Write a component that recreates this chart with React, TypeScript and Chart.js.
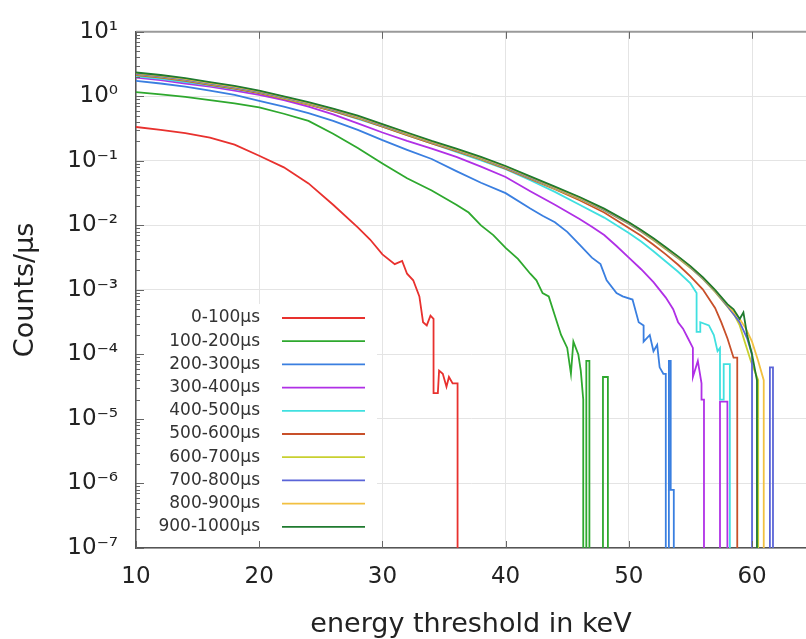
import { useEffect, useRef } from "react";
import { Chart, registerables } from "chart.js";

Chart.register(...registerables);

const seriesLabels = [
  "0-100µs", "100-200µs", "200-300µs", "300-400µs", "400-500µs",
  "500-600µs", "600-700µs", "700-800µs", "800-900µs", "900-1000µs",
];
const seriesColors = [
  "#e8312e", "#2ea82e", "#3a7fe0", "#b030e6", "#40e0e0",
  "#c8502a", "#c8d030", "#5a64d8", "#f2c040", "#1f7a2f",
];

const xTickValues = [10, 20, 30, 40, 50, 60];
const yTickValues = [1e-7, 1e-6, 1e-5, 1e-4, 1e-3, 1e-2, 1e-1, 1e0, 1e1];
const yTickLabels = ["10⁻⁷", "10⁻⁶", "10⁻⁵", "10⁻⁴", "10⁻³", "10⁻²", "10⁻¹", "10⁰", "10¹"];

// 0-100 µs
const e1 = [10, 12, 14, 16, 18, 20, 22, 24, 26, 28, 29, 30, 31, 31.6, 32, 32.5, 33, 33.3, 33.6, 33.9, 34.15, 34.15, 34.5, 34.6, 34.9, 35.2, 35.4, 35.7, 36.1, 36.1];
const c1 = [3.35e-1, 3.02e-1, 2.69e-1, 2.29e-1, 1.78e-1, 1.2e-1, 7.94e-2, 4.47e-2, 2.09e-2, 9.33e-3, 6.03e-3, 3.55e-3, 2.51e-3, 2.82e-3, 1.78e-3, 1.41e-3, 7.94e-4, 3.16e-4, 2.82e-4, 3.98e-4, 3.55e-4, 2.51e-5, 2.51e-5, 5.62e-5, 5.01e-5, 3.16e-5, 4.47e-5, 3.55e-5, 3.55e-5, 0];

// 100-200 µs
const e2 = [10, 12, 14, 16, 18, 20, 22, 24, 26, 28, 30, 32, 34, 36, 37, 38, 39, 40, 41, 42, 42.5, 43, 43.5, 44, 44.5, 45, 45.3, 45.5, 45.9, 46.1, 46.3, 46.3, 46.55, 46.55, 46.8, 46.8, 47.9, 47.9, 48.3, 48.3];
const c2 = [1.16, 1.07, 9.77e-1, 8.71e-1, 7.76e-1, 6.76e-1, 5.37e-1, 4.17e-1, 2.63e-1, 1.58e-1, 9.12e-2, 5.37e-2, 3.47e-2, 2.09e-2, 1.58e-2, 1.0e-2, 7.08e-3, 4.47e-3, 3.02e-3, 1.78e-3, 1.41e-3, 8.91e-4, 7.94e-4, 3.98e-4, 2.0e-4, 1.26e-4, 5.01e-5, 1.58e-4, 1.0e-4, 5.62e-5, 2.0e-5, 0, 0, 7.94e-5, 7.94e-5, 0, 0, 4.47e-5, 4.47e-5, 0];

// 200-300 µs
const e3 = [10, 12, 14, 16, 18, 20, 22, 24, 26, 28, 30, 32, 34, 36, 38, 40, 42, 43, 44, 45, 46, 47, 47.7, 48.2, 49, 49.5, 50.3, 50.8, 51.2, 51.2, 51.7, 52.0, 52.3, 52.5, 52.8, 53.0, 53.0, 53.25, 53.25, 53.4, 53.4, 53.65, 53.65];
const c3 = [1.74, 1.58, 1.41, 1.23, 1.05, 8.51e-1, 6.92e-1, 5.5e-1, 4.17e-1, 3.02e-1, 2.09e-1, 1.48e-1, 1.07e-1, 6.92e-2, 4.57e-2, 3.16e-2, 1.82e-2, 1.41e-2, 1.12e-2, 7.94e-3, 5.01e-3, 3.16e-3, 2.51e-3, 1.41e-3, 8.91e-4, 7.94e-4, 7.08e-4, 3.16e-4, 2.82e-4, 1.58e-4, 2.0e-4, 1.12e-4, 1.41e-4, 6.31e-5, 5.01e-5, 5.01e-5, 0, 0, 7.94e-5, 7.94e-5, 7.94e-7, 7.94e-7, 0];

// 300-400 µs
const e4 = [10, 12, 14, 16, 18, 20, 22, 24, 26, 28, 30, 32, 34, 36, 38, 40, 42, 44, 46, 47, 48, 49, 50, 51, 52, 53, 53.6, 54.0, 54.4, 54.8, 55.2, 55.2, 55.6, 55.9, 55.9, 56.1, 56.1, 57.4, 57.4, 58.0, 58.0];
const c4 = [1.95, 1.78, 1.58, 1.41, 1.23, 1.05, 8.71e-1, 6.92e-1, 5.25e-1, 3.8e-1, 2.75e-1, 2.04e-1, 1.55e-1, 1.15e-1, 8.13e-2, 5.62e-2, 3.39e-2, 2.09e-2, 1.26e-2, 9.55e-3, 7.08e-3, 4.79e-3, 3.16e-3, 2.09e-3, 1.32e-3, 7.59e-4, 5.01e-4, 3.16e-4, 2.51e-4, 1.78e-4, 1.26e-4, 4.47e-5, 7.94e-5, 3.55e-5, 2.0e-5, 2.0e-5, 0, 0, 1.86e-5, 1.86e-5, 0];

// 400-500 µs
const e5 = [10, 12, 14, 16, 18, 20, 22, 24, 26, 28, 30, 32, 34, 36, 38, 40, 42, 44, 46, 48, 50, 51, 52, 53, 54, 55, 55.5, 55.5, 55.8, 55.8, 56.5, 56.9, 57.2, 57.4, 57.4, 57.7, 57.7, 58.2, 58.2];
const c5 = [2.04, 1.86, 1.66, 1.48, 1.29, 1.12, 9.33e-1, 7.59e-1, 5.89e-1, 4.47e-1, 3.39e-1, 2.51e-1, 1.86e-1, 1.38e-1, 1.02e-1, 7.41e-2, 5.01e-2, 3.31e-2, 2.09e-2, 1.32e-2, 7.59e-3, 5.62e-3, 3.98e-3, 2.75e-3, 1.91e-3, 1.26e-3, 8.91e-4, 2.24e-4, 2.24e-4, 3.16e-4, 2.82e-4, 2.0e-4, 1.12e-4, 1.26e-4, 2.0e-5, 2.0e-5, 7.08e-5, 7.08e-5, 0];

// 500-600 µs
const e6 = [10, 12, 14, 16, 18, 20, 22, 24, 26, 28, 30, 32, 34, 36, 38, 40, 42, 44, 46, 48, 50, 51, 52, 53, 54, 55, 56, 57, 57.5, 58.0, 58.5, 58.8, 58.8];
const c6 = [2.14, 1.95, 1.74, 1.51, 1.32, 1.12, 9.12e-1, 7.41e-1, 5.89e-1, 4.57e-1, 3.39e-1, 2.51e-1, 1.86e-1, 1.41e-1, 1.05e-1, 7.59e-2, 5.25e-2, 3.63e-2, 2.45e-2, 1.58e-2, 9.12e-3, 6.92e-3, 5.01e-3, 3.55e-3, 2.45e-3, 1.62e-3, 1.02e-3, 5.25e-4, 3.16e-4, 1.78e-4, 8.91e-5, 8.91e-5, 0];

// 600-700 µs
const e7 = [10, 12, 14, 16, 18, 20, 22, 24, 26, 28, 30, 32, 34, 36, 38, 40, 42, 44, 46, 48, 50, 51, 52, 53, 54, 55, 56, 57, 58, 58.6, 59.0, 59.4, 59.9, 60.5, 60.5];
const c7 = [2.19, 2.0, 1.78, 1.55, 1.35, 1.15, 9.33e-1, 7.59e-1, 6.03e-1, 4.68e-1, 3.47e-1, 2.57e-1, 1.91e-1, 1.45e-1, 1.07e-1, 7.76e-2, 5.37e-2, 3.72e-2, 2.57e-2, 1.7e-2, 1.05e-2, 7.94e-3, 5.89e-3, 4.27e-3, 3.09e-3, 2.19e-3, 1.48e-3, 9.33e-4, 5.5e-4, 3.98e-4, 2.82e-4, 1.58e-4, 7.94e-5, 3.98e-5, 0];

// 700-800 µs
const e8 = [10, 12, 14, 16, 18, 20, 22, 24, 26, 28, 30, 32, 34, 36, 38, 40, 42, 44, 46, 48, 50, 51, 52, 53, 54, 55, 56, 57, 58, 59, 59.6, 60.0, 60.0, 61.45, 61.45, 61.7, 61.7];
const c8 = [2.24, 2.04, 1.82, 1.58, 1.38, 1.17, 9.55e-1, 7.76e-1, 6.17e-1, 4.79e-1, 3.55e-1, 2.63e-1, 1.95e-1, 1.48e-1, 1.1e-1, 7.94e-2, 5.5e-2, 3.8e-2, 2.63e-2, 1.74e-2, 1.07e-2, 8.13e-3, 6.03e-3, 4.37e-3, 3.16e-3, 2.24e-3, 1.51e-3, 9.55e-4, 5.62e-4, 3.16e-4, 1.78e-4, 1.0e-4, 0, 0, 6.31e-5, 6.31e-5, 0];

// 800-900 µs
const e9 = [10, 12, 14, 16, 18, 20, 22, 24, 26, 28, 30, 32, 34, 36, 38, 40, 42, 44, 46, 48, 50, 51, 52, 53, 54, 55, 56, 57, 58, 59, 59.5, 60.0, 60.5, 60.95, 60.95];
const c9 = [2.29, 2.09, 1.86, 1.62, 1.41, 1.2, 9.77e-1, 7.94e-1, 6.31e-1, 4.9e-1, 3.63e-1, 2.69e-1, 1.99e-1, 1.51e-1, 1.12e-1, 8.13e-2, 5.62e-2, 3.89e-2, 2.69e-2, 1.78e-2, 1.1e-2, 8.32e-3, 6.17e-3, 4.47e-3, 3.24e-3, 2.29e-3, 1.55e-3, 9.77e-4, 5.89e-4, 3.55e-4, 2.51e-4, 1.58e-4, 7.94e-5, 3.98e-5, 0];

// 900-1000 µs
const e10 = [10, 12, 14, 16, 18, 20, 22, 24, 26, 28, 30, 32, 34, 36, 38, 40, 42, 44, 46, 48, 50, 51, 52, 53, 54, 55, 56, 57, 58, 58.5, 59.0, 59.3, 59.6, 60.0, 60.4, 60.4];
const c10 = [2.34, 2.14, 1.91, 1.66, 1.45, 1.23, 1.0, 8.13e-1, 6.46e-1, 5.01e-1, 3.72e-1, 2.75e-1, 2.04e-1, 1.55e-1, 1.15e-1, 8.32e-2, 5.75e-2, 3.98e-2, 2.75e-2, 1.82e-2, 1.12e-2, 8.51e-3, 6.31e-3, 4.57e-3, 3.31e-3, 2.34e-3, 1.58e-3, 1.0e-3, 6.03e-4, 5.01e-4, 3.55e-4, 4.47e-4, 2.0e-4, 1.0e-4, 3.98e-5, 0];

const seriesEnergies = [e1, e2, e3, e4, e5, e6, e7, e8, e9, e10];
const seriesCounts = [c1, c2, c3, c4, c5, c6, c7, c8, c9, c10];

// zero counts cannot be shown on a log axis: they are drawn below the axis minimum (clipped)
const ZERO_FLOOR = 1e-9;

const FONT = "'DejaVu Sans', sans-serif";

const framePlugin = {
  id: "frame",
  beforeDatasetsDraw(chart: any) {
    const { ctx, chartArea: a } = chart;
    ctx.save();
    ctx.fillStyle = "#ffffff";
    ctx.fillRect(a.left + 1, 304, 240, a.bottom - 304 - 1);
    ctx.restore();
  },
  afterDatasetsDraw(chart: any) {
    const { ctx } = chart;
    ctx.save();
    ctx.font = `17px ${FONT}`;
    ctx.textAlign = "right";
    ctx.textBaseline = "middle";
    seriesLabels.forEach((lab, i) => {
      const y = 318 + i * 23.2;
      ctx.fillStyle = "#333333";
      ctx.fillText(lab, 260, y);
      ctx.strokeStyle = seriesColors[i];
      ctx.lineWidth = 1.8;
      ctx.beginPath();
      ctx.moveTo(282, y);
      ctx.lineTo(365, y);
      ctx.stroke();
    });
    ctx.restore();
  },
  afterDraw(chart: any) {
    const { ctx, chartArea: a, scales } = chart;
    ctx.save();
    ctx.strokeStyle = "#9a9a9a";
    ctx.lineWidth = 2;
    ctx.beginPath();
    ctx.moveTo(a.left, a.top);
    ctx.lineTo(a.right, a.top);
    ctx.stroke();
    ctx.strokeStyle = "#666666";
    ctx.lineWidth = 1;
    ctx.beginPath();
    xTickValues.forEach((v) => {
      const px = Math.round(scales.x.getPixelForValue(v)) + 0.5;
      ctx.moveTo(px, a.bottom);
      ctx.lineTo(px, a.bottom - 7);
      ctx.moveTo(px, a.top);
      ctx.lineTo(px, a.top + 7);
    });
    for (let d = 0; d < yTickValues.length; d++) {
      const base = yTickValues[d];
      for (let m = 1; m <= 9; m++) {
        if (d === yTickValues.length - 1 && m > 1) break;
        const py = Math.round(scales.y.getPixelForValue(base * m)) + 0.5;
        const len = m === 1 ? 8 : 4;
        ctx.moveTo(a.left, py);
        ctx.lineTo(a.left + len, py);
      }
    }
    ctx.stroke();
    ctx.restore();
  },
};

export default function App() {
  const ref = useRef<HTMLCanvasElement>(null);
  useEffect(() => {
    const datasets = seriesLabels.map((label, i) => ({
      label,
      data: seriesEnergies[i].map((x, j) => {
        const v = seriesCounts[i][j];
        return { x, y: v > 0 ? v : ZERO_FLOOR };
      }),
      borderColor: seriesColors[i],
      backgroundColor: seriesColors[i],
      borderWidth: 1.8,
      pointRadius: 0,
      tension: 0,
      fill: false,
      order: 10 - i,
    }));
    const chart = new Chart(ref.current as HTMLCanvasElement, {
      type: "line",
      data: { datasets },
      options: {
        animation: false,
        responsive: false,
        devicePixelRatio: 1,
        layout: { padding: { top: 27, right: 0, left: 0, bottom: 0 } },
        plugins: { legend: { display: false }, tooltip: { enabled: false } },
        scales: {
          x: {
            type: "linear",
            min: 10,
            max: 64.38,
            afterBuildTicks: (scale: any) => {
              scale.ticks = xTickValues.map((value) => ({ value }));
            },
            afterFit: (scale: any) => {
              scale.height = 91;
            },
            ticks: {
              font: { family: FONT, size: 23 },
              color: "#222222",
              padding: 15,
              maxRotation: 0,
            },
            grid: { color: "#e4e4e4", lineWidth: 1, drawTicks: false },
            border: { display: true, color: "#555555", width: 1.5 },
            title: {
              display: true,
              text: "energy threshold in keV",
              font: { family: FONT, size: 27, lineHeight: 1 },
              color: "#222222",
              padding: { top: 0, bottom: 1 },
            },
          },
          y: {
            type: "logarithmic",
            min: 1e-7,
            max: 10,
            afterBuildTicks: (scale: any) => {
              scale.ticks = yTickValues.map((value) => ({ value }));
            },
            afterFit: (scale: any) => {
              scale.width = 136;
            },
            ticks: {
              font: { family: FONT, size: 23 },
              color: "#222222",
              padding: 18,
              callback: (v: any) => {
                const idx = yTickValues.findIndex(
                  (t) => Math.abs(Math.log10(t) - Math.log10(Number(v))) < 1e-6
                );
                return idx >= 0 ? yTickLabels[idx] : "";
              },
            },
            grid: { color: "#e4e4e4", lineWidth: 1, drawTicks: false },
            border: { display: true, color: "#555555", width: 1.5 },
            title: {
              display: true,
              text: "Counts/µs",
              font: { family: FONT, size: 27, lineHeight: 1 },
              color: "#222222",
              padding: { top: 12, bottom: 0 },
            },
          },
        },
      },
      plugins: [framePlugin],
    } as any);
    return () => chart.destroy();
  }, []);
  return (
    <div style={{ position: "absolute", left: 0, top: 0, width: 806, height: 639 }}>
      <canvas ref={ref} width={806} height={639} style={{ display: "block" }} />
    </div>
  );
}
